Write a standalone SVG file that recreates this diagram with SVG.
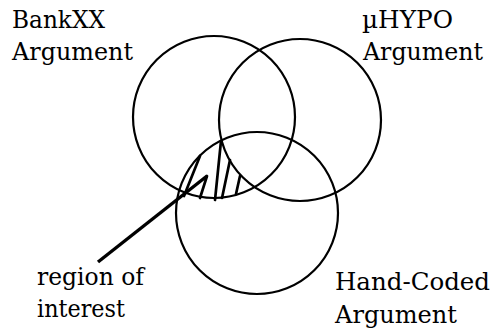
<svg xmlns="http://www.w3.org/2000/svg" width="493" height="331" viewBox="0 0 493 331">
<style>
.c{fill:none;stroke:#000;stroke-width:2.2}
.t{font-family:'DejaVu Serif',serif;font-size:25px;fill:#000}
.h{stroke:#000;stroke-width:2.7;stroke-linecap:round;fill:none}
.p{stroke:#000;stroke-width:3.4;stroke-linecap:butt;fill:none}
</style>
<rect width="493" height="331" fill="#fff"/>
<g id="bankxx">
<circle class="c" cx="214" cy="117" r="81"/>
<text class="t" x="12" y="28" textLength="93" lengthAdjust="spacingAndGlyphs">BankXX</text>
<text class="t" x="12" y="60" textLength="121" lengthAdjust="spacingAndGlyphs">Argument</text>
</g>
<g id="uhypo">
<circle class="c" cx="300" cy="120" r="81"/>
<text class="t" x="362" y="28" textLength="91" lengthAdjust="spacingAndGlyphs">µHYPO</text>
<text class="t" x="363" y="60" textLength="120" lengthAdjust="spacingAndGlyphs">Argument</text>
</g>
<g id="handcoded">
<circle class="c" cx="257" cy="213" r="81"/>
<text class="t" x="335" y="290" textLength="155" lengthAdjust="spacingAndGlyphs">Hand-Coded</text>
<text class="t" x="335" y="323" textLength="122" lengthAdjust="spacingAndGlyphs">Argument</text>
</g>
<g id="region">
<path class="h" d="M184,196 L200,156 M200,198 L207,176 M215,200 L221,141 M222,198 L230,160 M236,194 L240,176"/>
<text class="t" x="37" y="285" textLength="107" lengthAdjust="spacingAndGlyphs">region of</text>
<text class="t" x="37" y="317" textLength="88" lengthAdjust="spacingAndGlyphs">interest</text>
</g>
<g id="connectors">
<line class="p" x1="98" y1="262" x2="207" y2="176"/>
</g>
</svg>
